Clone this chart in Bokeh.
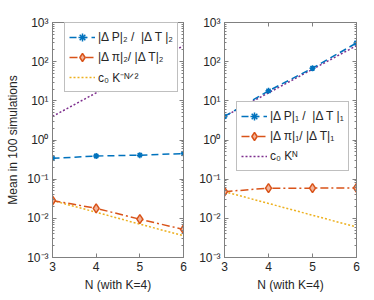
from bokeh.plotting import figure
from bokeh.layouts import row
from bokeh.models import Legend, LegendItem, LogAxis, LinearAxis, FixedTicker, Range1d
from bokeh.embed import file_html
from bokeh.resources import INLINE

# ---- data ----
N = [3, 4, 5, 6]
left_dP = [0.34, 0.39, 0.41, 0.45]
left_dpi = [0.0285, 0.018, 0.0095, 0.0052]
left_c0 = [0.0285, 0.0143, 0.0071, 0.0036]
left_KN = [4, 16, 64, 256]
right_dP = [4.0, 18, 68, 300]
right_dpi = [0.048, 0.059, 0.059, 0.060]
right_c0 = [0.048, 0.024, 0.012, 0.006]
right_KN = [4, 16, 64, 256]

y_ticks = [1e-3, 1e-2, 1e-1, 1e0, 1e1, 1e2, 1e3]
y_tick_labels = ["10⁻³", "10⁻²", "10⁻¹", "10⁰", "10¹", "10²", "10³"]
x_ticks = [3, 4, 5, 6]
x_label = "N (with K=4)"
y_label = "Mean in 100 simulations"
left_labels = ["|Δ P|₂ /  |Δ T |₂", "|Δ π|₂/ |Δ T|₂", "c₀ K⁻ᴺᐟ²"]
right_labels = ["|Δ P|₁ /  |Δ T |₁", "|Δ π|₁/ |Δ T|₁", "c₀ Kᴺ"]

BLUE = "#0072BD"
ORANGE = "#D95319"
YELLOW = "#EDB120"
PURPLE = "#7E2F8E"
AX = "#808080"
TXT = "#262626"
FONT = "Liberation Sans"

minor = [k * 10.0 ** e for e in range(-3, 3) for k in range(2, 10)]


def style_axis(ax, labels=True):
    ax.axis_line_color = AX
    ax.major_tick_line_color = AX
    ax.minor_tick_line_color = AX
    ax.major_tick_in = 4
    ax.major_tick_out = 0
    ax.minor_tick_in = 2
    ax.minor_tick_out = 0
    ax.major_label_text_color = TXT
    ax.major_label_text_font = FONT
    ax.major_label_text_font_size = "12px" if labels else "1px"
    if not labels:
        ax.major_label_text_alpha = 0
        ax.major_label_standoff = 0
    else:
        ax.major_label_standoff = 4
    ax.axis_label_text_color = TXT
    ax.axis_label_text_font = FONT
    ax.axis_label_text_font_size = "12px"
    ax.axis_label_text_font_style = "normal"
    ax.axis_label_standoff = 4


def make(dP, dpi, c0, KN, labels, legend_loc, border_left, frame_w, width, ylab):
    p = figure(width=width, height=296, y_axis_type="log",
               x_range=Range1d(3, 6), y_range=Range1d(1e-3, 1e3),
               output_backend="svg", toolbar_location=None,
               min_border_left=border_left, min_border_right=9,
               min_border_top=22, min_border_bottom=39)
    p.frame_width = frame_w
    p.frame_height = 235
    p.xgrid.visible = False
    p.ygrid.visible = False
    p.outline_line_color = AX
    p.background_fill_color = "white"
    p.border_fill_color = "white"

    yt = FixedTicker(ticks=y_ticks, minor_ticks=minor)
    xt = FixedTicker(ticks=x_ticks, minor_ticks=[])
    p.yaxis.ticker = yt
    p.xaxis.ticker = xt
    p.yaxis.major_label_overrides = {t: l for t, l in zip(y_ticks, y_tick_labels)}
    p.xaxis.axis_label = x_label
    if ylab:
        p.yaxis.axis_label = y_label
    style_axis(p.xaxis[0])
    style_axis(p.yaxis[0])

    ra = LogAxis(ticker=FixedTicker(ticks=y_ticks, minor_ticks=minor))
    style_axis(ra, labels=False)
    p.add_layout(ra, "right")
    ta = LinearAxis(ticker=FixedTicker(ticks=x_ticks, minor_ticks=[]))
    style_axis(ta, labels=False)
    p.add_layout(ta, "above")

    kn = p.line(N, KN, line_color=PURPLE, line_width=1.5, line_dash="2 2")
    yl = p.line(N, c0, line_color=YELLOW, line_width=1.5, line_dash="2 2")
    bl = p.line(N, dP, line_color=BLUE, line_width=1.5, line_dash="7 4")
    bm = p.scatter(N, dP, marker="asterisk", size=6, line_color=BLUE, line_width=1.5)
    ol = p.line(N, dpi, line_color=ORANGE, line_width=1.5, line_dash="8 3 2 3")
    om = p.scatter(N, dpi, marker="diamond", size=9, line_color=ORANGE,
                   fill_color="#F2B49A", line_width=1.5)

    third = yl if ylab else kn
    leg = Legend(items=[LegendItem(label=labels[0], renderers=[bl, bm]),
                        LegendItem(label=labels[1], renderers=[ol, om]),
                        LegendItem(label=labels[2], renderers=[third])],
                 location=legend_loc)
    leg.label_text_font = FONT
    leg.label_text_font_size = "12px"
    leg.label_text_color = TXT
    leg.border_line_color = AX
    leg.border_line_width = 1
    leg.background_fill_alpha = 1
    leg.glyph_width = 26
    leg.glyph_height = 20
    leg.label_height = 20
    leg.spacing = 0
    leg.padding = 4
    leg.margin = 0
    leg.label_standoff = 3
    p.add_layout(leg, "center")
    return p


left = make(left_dP, left_dpi, left_c0, left_KN, left_labels, (12, 165), 52, 131, 192, True)
right = make(right_dP, right_dpi, right_c0, right_KN, right_labels, (12, 86), 32, 132, 173, False)

layout = row(left, right)
open("out.html", "w").write(file_html(layout, INLINE))
